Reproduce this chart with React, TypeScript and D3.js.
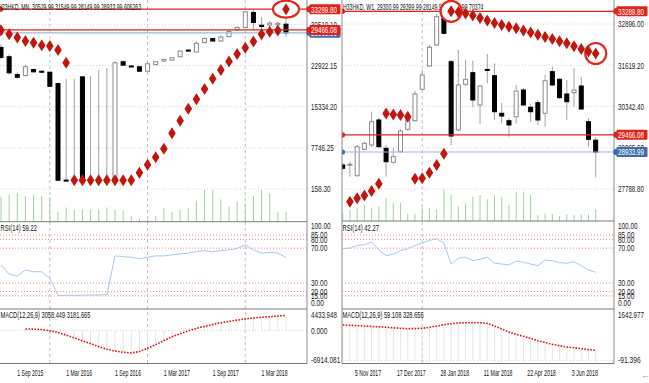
import React from 'react';
import * as d3 from 'd3';

const FONT = "'Liberation Sans Narrow','Arial Narrow','Liberation Sans',Arial,sans-serif";

// ===================== Monthly (left) =====================
const mOpen = [26261, 24536, 21253, 21067, 22180, 21865, 21679, 19583, 1800, 1700, 20826, 1460, 1500, 1520, 1460, 23608, 22830, 22681, 21865, 23108, 23720, 23905, 24536, 25760, 25389, 27133, 27875, 27430, 28246, 29470, 29915, 32698, 30342, 30400, 30420, 30529.99];
const mHigh = [26818, 24963, 21679, 23108, 22366, 21995, 21809, 19769, 20455, 20455, 20882, 20937, 22050, 22495, 23664, 23850, 23015, 22829, 23534, 23757, 24165, 24499, 25705, 25890, 27374, 28116, 28023, 28487, 29600, 30157, 32939, 33289.8, 31826, 31084, 31000, 31549.99];
const mLow = [24035, 21253, 20511, 20937, 21568, 21624, 18934, 1589, 1589, 1404, 1404, 1311, 1311, 1311, 1404, 22792, 22644, 21716, 21679, 23015, 23664, 23850, 24406, 25519, 25278, 27003, 27281, 27281, 28116, 29322, 29786, 29600, 29600, 30064, 30100, 28149.99];
const mClose = [24406, 21568, 20752, 22681, 21753, 21679, 19082, 1775, 1750, 1750, 1460, 1500, 1520, 1540, 23423, 22978, 22792, 21865, 23237, 23608, 24035, 24350, 25575, 25705, 27003, 27875, 27430, 28172, 29173, 29915, 32810, 30843, 30101, 30713, 30700, 28933.99];
const mVol = [500, 534, 580, 514, 534, 514, 486, 200, 286, 234, 246, 246, 246, 286, 234, 220, 114, 66, 40, 114, 266, 200, 234, 266, 420, 634, 634, 446, 300, 400, 366, 514, 634, 566, 200, 200];
const mSar = [29415, 28673, 28060, 27430, 27133, 26632, 26502, 25760, 23423, 1775, 1775, 1775, 1775, 1775, 1775, 1775, 1775, 3131, 4615, 6025, 7583, 10438, 12720, 14946, 16708, 18600, 20455, 22087, 23664, 25055, 26168, 27319, 28673, 29136, 29359, 33289.8];
const mRsi = [50.6, 40.1, 37.8, 44.8, 42.8, 42.8, 35.1, 15.7, 15.7, 15.7, 15.9, 16.0, 16.2, 16.5, 61, 60.2, 59.5, 57.9, 59.5, 61, 61, 62.2, 63.4, 64.2, 66, 67.2, 65.7, 67.2, 68, 69.5, 73.8, 68, 64.2, 65.3, 64.2, 59.22];
const mMacd = [null, null, null, 330, 310, 200, -20, -400, -950, -1550, -2150, -2750, -3380, -3900, -4300, -4560, -4700, -4400, -3720, -2950, -2100, -1280, -650, -50, 480, 900, 1300, 1660, 1950, 2200, 2440, 2640, 2800, 2920, 3050, 3181.665];
const mDateLabels = ['1 Sep 2015', '1 Mar 2016', '1 Sep 2016', '1 Mar 2017', '1 Sep 2017', '1 Mar 2018'];
const mDateIdx = [2, 8, 14, 20, 26, 32];
const mYearIdx = [6, 18, 30];
const mGridVals = [158.3, 7746.25, 15334.2, 22922.15, 30510.1];
const mGridLabels = ['158.30', '7746.25', '15334.20', '22922.15', '30510.10'];

// ===================== Weekly (right) =====================
const wOpen = [28532, 28530, 28200, 29018, 29151, 29925, 29049, 28615, 28943, 29637, 29903, 30875, 31596, 32246, 33072, 31729, 29615, 31030, 31389, 30389, 31490, 31296, 30132, 29903, 30027, 30853, 30318, 30460, 30132, 31420, 31184, 30729, 30769, 30977, 29872, 29300.99];
const wHigh = [28593, 28634, 29151, 29253, 30181, 30008, 29151, 29058, 29646, 30181, 30822, 31472, 32246, 33205, 33289.8, 31782, 32091, 31782, 31760, 31008, 31967, 31680, 30451, 29987, 31008, 30915, 30420, 30544, 31317, 31574, 31224, 31163, 31525, 31265, 29977, 29399.99];
const wLow = [28377, 28170, 28170, 28996, 29098, 29049, 28170, 28578, 28918, 29584, 29878, 30853, 31565, 32215, 32586, 29151, 29584, 30977, 30318, 29800, 31061, 29925, 29822, 29408, 29822, 30358, 29862, 29770, 29717, 30977, 30575, 29925, 30336, 30234, 29098, 28149.99];
const wClose = [28430, 28555, 29098, 29203, 29872, 29098, 28634, 28789, 29584, 29925, 30729, 31317, 32175, 33122, 32608, 29429, 31008, 31184, 30544, 30977, 31472, 30181, 30048, 29770, 30822, 30389, 30181, 29925, 31141, 31008, 30615, 30491, 30853, 30265, 29327, 28933.99];
const wVol = [8000, 11000, 12700, 16000, 13300, 15000, 22700, 17700, 18300, 7000, 7000, 13700, 12700, 11700, 31700, 26000, 15000, 17700, 24300, 26000, 21700, 26000, 24300, 16000, 29300, 29300, 26000, 6000, 7700, 7000, 5000, 7000, 6000, 6000, 7000, 11700];
const wSar = [null, 27396, 27501, 27588, 27727, 27953, 30126, 30095, 30079, 30027, 28105, 28120, 28293, 28532, 28881, 33289.8, 33267, 33221, 33159, 33082, 33004, 32927, 32865, 32812, 32763, 32695, 32633, 32565, 32494, 32432, 32360, 32299, 32206, 32122, 32045, 31983];
const wRsi = [69.2, 70, 73, 73.8, 77, 68, 61.4, 63, 67.2, 69.2, 73, 75.8, 78.8, 80.8, 75.8, 51.7, 58.4, 59.5, 55.6, 57.2, 59.5, 52.6, 51.7, 50.6, 55.2, 53.7, 51.7, 49.8, 56.4, 55.6, 53.3, 52.6, 54.4, 49.8, 44.8, 42.27];
const wMacd = [1145, 1135, 1125, 1113, 1100, 1085, 1071, 1055, 1040, 1026, 1030, 1039, 1071, 1110, 1155, 1185, 1209, 1219, 1220, 1219, 1200, 1113, 1017, 920, 846, 782, 718, 641, 583, 525, 480, 438, 416, 384, 355, 328.656];
const wDateLabels = ['5 Nov 2017', '17 Dec 2017', '28 Jan 2018', '11 Mar 2018', '22 Apr 2018', '3 Jun 2018'];
const wDateIdx = [5, 11, 17, 23, 29, 35];
const wYearIdx = [11];
const wGridVals = [27788.8, 29065.6, 30342.4, 31619.2, 32896.0];
const wGridLabels = ['27788.80', '29065.60', '30342.40', '31619.20', '32896.00'];

// ===================== shared =====================
const sarExtreme = 33289.8;
const resistance = 29466.08;
const lastPrice = 28933.99;
const rsiLevels = [85, 80, 70, 30, 20, 15];
const rsiLabelVals = [100, 85, 80, 70, 30, 20, 15, 0];
const rsiLabels = ['100.00', '85.00', '80.00', '70.00', '30.00', '20.00', '15.00', '0.00'];

const RED = '#e3231b';
const DIAMOND = '#c0160e';

function T({ x, y, s, cw, anchor = 'start', fill = '#222', size = 9.5 }: any) {
  return (
    <text x={x} y={y} dy="0.35em" fontSize={size} fontFamily={FONT} fill={fill} textAnchor={anchor}
      textLength={s.length * cw} lengthAdjust="spacingAndGlyphs">{s}</text>
  );
}

function Panel(p: any) {
  const n = p.close.length;
  const x = d3.scaleLinear().domain([0, n - 1]).range(p.xRange);
  const y = d3.scaleLinear().domain(p.pDomain).range(p.pRange);
  const yv = d3.scaleLinear().domain([0, p.volMax]).range([p.mainBottom, p.mainBottom - 40]);
  const yr = d3.scaleLinear().domain([0, 100]).range([309, 222]);
  const ym = d3.scaleLinear().domain(p.macdDomain).range([363.5, 309.5]);
  const rsiPath = d3.line<number>().x((_, i) => x(i)).y((d) => yr(d)).curve(d3.curveLinear)(p.rsi) || '';
  const macdPath = d3.line<any>().defined((d) => d != null).x((_, i) => x(i)).y((d) => ym(d))(p.macd) || '';
  const clip = 'clip' + p.id;
  const x0 = p.x0, x1 = p.x1;
  const lx = x1 + 4;
  const diamond = 'M0,-6L3.8,0L0,6L-3.8,0Z';
  const levels = [
    { v: lastPrice, color: '#9fb8d6', box: '#3e6ea6', text: '28933.99' },
    { v: resistance, color: RED, box: RED, text: '29466.08' },
    { v: sarExtreme, color: RED, box: RED, text: '33289.80' },
  ];
  return (
    <g>
      <defs>
        <clipPath id={clip}><rect x={x0} y={0} width={x1 - x0} height={364} /></clipPath>
      </defs>
      <rect x={p.bgX} y={0} width={649 - p.bgX} height={383} fill="#fff" />
      <g clipPath={`url(#${clip})`}>
        {p.gridVals.map((v: number, i: number) => (
          <line key={'g' + i} x1={x0} x2={x1} y1={y(v)} y2={y(v)} stroke="#d4d4d4" strokeDasharray="1,2" />
        ))}
        <line x1={x0} x2={x1} y1={ym(0)} y2={ym(0)} stroke="#d4d4d4" strokeDasharray="1,2" />
        {p.yearIdx.map((i: number) => (
          <line key={'v' + i} x1={x(i)} x2={x(i)} y1={0} y2={363.5} stroke="#bdbdbd" strokeDasharray="3,3" />
        ))}
        {p.vol.map((v: number, i: number) => (
          <line key={'vol' + i} x1={x(i)} x2={x(i)} y1={yv(0)} y2={yv(v)} stroke="#9fd39f" strokeWidth={1} />
        ))}
        {p.close.map((c: number, i: number) => {
          const o = p.open[i];
          const bear = c < o;
          const top = y(Math.max(o, c));
          const h = Math.max(1, Math.abs(y(o) - y(c)));
          return (
            <g key={'c' + i}>
              <line x1={x(i)} x2={x(i)} y1={y(p.high[i])} y2={y(p.low[i])} stroke="#a3a3a3" />
              <rect x={x(i) - 2} y={top} width={4} height={h} fill={bear ? '#000' : '#fff'} stroke={bear ? '#000' : '#8a8a8a'} />
            </g>
          );
        })}
        {rsiLevels.map((v) => (
          <line key={'r' + v} x1={x0} x2={x1} y1={yr(v)} y2={yr(v)} stroke="#ee8a8a" strokeDasharray="1,2" />
        ))}
        <path d={rsiPath} fill="none" stroke="#a9c9ee" strokeWidth={1} />
        {p.macd.map((v: any, i: number) => v == null ? null : (
          <line key={'h' + i} x1={x(i)} x2={x(i)} y1={ym(0)} y2={ym(v)} stroke="#e6e6e6" />
        ))}
        <path d={macdPath} fill="none" stroke="#e01010" strokeWidth={1.6} strokeDasharray="1.6,1.4" />
        {levels.map((l, i) => (
          <g key={'l' + i}>
            <line x1={x0} x2={x1 + 2} y1={y(l.v)} y2={y(l.v)} stroke={l.color} strokeWidth={1.2} />
            <circle cx={x0 + 0.5} cy={y(l.v)} r={2.6} fill={l.box} />
          </g>
        ))}
        <T x={p.headerX} y={7} s={p.header} cw={2.65} fill="#111" size={9} />
        <T x={x0 + 0.5} y={227.5} s={p.rsiText} cw={2.8} fill="#111" size={9} />
        <T x={x0 + 0.5} y={315} s={p.macdText} cw={2.9} fill="#111" size={9} />
        {p.circles.map((c: any, k: number) => (
          <ellipse key={'e' + k} cx={x(c.i)} cy={y(p.sar[c.i])} rx={c.rx} ry={c.ry} fill="#fff" stroke="#e4261c" strokeWidth={2.2} />
        ))}
        {p.sar.map((v: any, i: number) => v == null ? null : (
          <path key={'s' + i} d={diamond} transform={`translate(${x(i)},${y(v)})`} fill={DIAMOND} />
        ))}
      </g>
      {/* frames */}
      {p.frameX.map((fx: number, i: number) => (
        <line key={'f' + i} x1={fx} x2={fx} y1={0} y2={363.5} stroke="#8c8c8c" />
      ))}
      {[p.mainBottom, 309, 363.5].map((yy: number, i: number) => (
        <line key={'s' + i} x1={x0} x2={x1} y1={yy} y2={yy} stroke="#7a7a7a" />
      ))}
      {/* price axis labels */}
      {p.gridVals.map((v: number, i: number) => (
        <T key={'gl' + i} x={lx} y={y(v)} s={p.gridLabels[i]} cw={3.25} />
      ))}
      {levels.map((l, i) => (
        <g key={'lb' + i}>
          <circle cx={x1 + 2.5} cy={y(l.v)} r={3.2} fill={l.box} />
          <rect x={x1 + 2.5} y={y(l.v) - 5} width={31} height={10} fill={l.box} rx={1} />
          <T x={lx} y={y(l.v)} s={l.text} cw={3.25} fill="#fff" />
        </g>
      ))}
      {rsiLabelVals.map((v, i) => (
        <T key={'rl' + i} x={lx} y={Math.min(303, Math.max(226, yr(v)))} s={rsiLabels[i]} cw={3.25} />
      ))}
      {p.macdVals.map((v: number, i: number) => (
        <T key={'ml' + i} x={lx} y={Math.min(360, Math.max(315, ym(v)))} s={p.macdLabels[i]} cw={3.25} />
      ))}
      {p.dateLabels.map((s: string, i: number) => (
        <T key={'d' + i} x={x(p.dateIdx[i] + p.dateShift)} y={372.7} s={s} cw={2.6} anchor={p.dateAnchor} fill="#111" size={9} />
      ))}
    </g>
  );
}

export default function App() {
  return (
    <svg width={649} height={383} style={{ position: 'absolute', left: 0, top: 0, background: '#fff' }}>
      <Panel
        id="L" bgX={0} x0={0} x1={307} frameX={[307]} xRange={[1, 286]}
        open={mOpen} high={mHigh} low={mLow} close={mClose} vol={mVol} volMax={800}
        sar={mSar} rsi={mRsi} macd={mMacd}
        pDomain={[158.3, 30510.1]} pRange={[189, 24.3]} mainBottom={221.7}
        macdDomain={[-6914.081, 4433.948]} macdVals={[4433.948, 0, -6914.081]} macdLabels={['4433.948', '0.000', '-6914.081']}
        gridVals={mGridVals} gridLabels={mGridLabels} yearIdx={mYearIdx}
        header="H33HKD, MN, 30529.99 31549.99 28149.99 28933.99 606263" headerX={-2}
        rsiText="RSI(14) 59.22" macdText="MACD(12,26,9) 3058.449 3181.665"
        dateLabels={mDateLabels} dateIdx={mDateIdx} dateShift={0} dateAnchor="start"
        circles={[{ i: 35, rx: 13, ry: 8.5 }]}
      />
      <Panel
        id="R" bgX={341} x0={342} x1={614} frameX={[342, 614]} xRange={[342.7, 595.7]}
        open={wOpen} high={wHigh} low={wLow} close={wClose} vol={wVol} volMax={40000}
        sar={wSar} rsi={wRsi} macd={wMacd}
        pDomain={[27788.8, 32896]} pRange={[189, 24]} mainBottom={221}
        macdDomain={[-91.396, 1642.977]} macdVals={[1642.977, -91.396]} macdLabels={['1642.977', '-91.396']}
        gridVals={wGridVals} gridLabels={wGridLabels} yearIdx={wYearIdx}
        header="H33HKD, W1, 29300.99 29399.99 28149.99 28933.99 70374" headerX={343}
        rsiText="RSI(14) 42.27" macdText="MACD(12,26,9) 59.108 328.656"
        dateLabels={wDateLabels} dateIdx={wDateIdx} dateShift={-1.5} dateAnchor="middle"
        circles={[{ i: 15, rx: 10.5, ry: 10.5 }, { i: 35, rx: 10.5, ry: 10.5 }]}
      />
      <text x={641} y={378} fontSize={9} fill="#999" fontFamily={FONT}>←</text>
    </svg>
  );
}
